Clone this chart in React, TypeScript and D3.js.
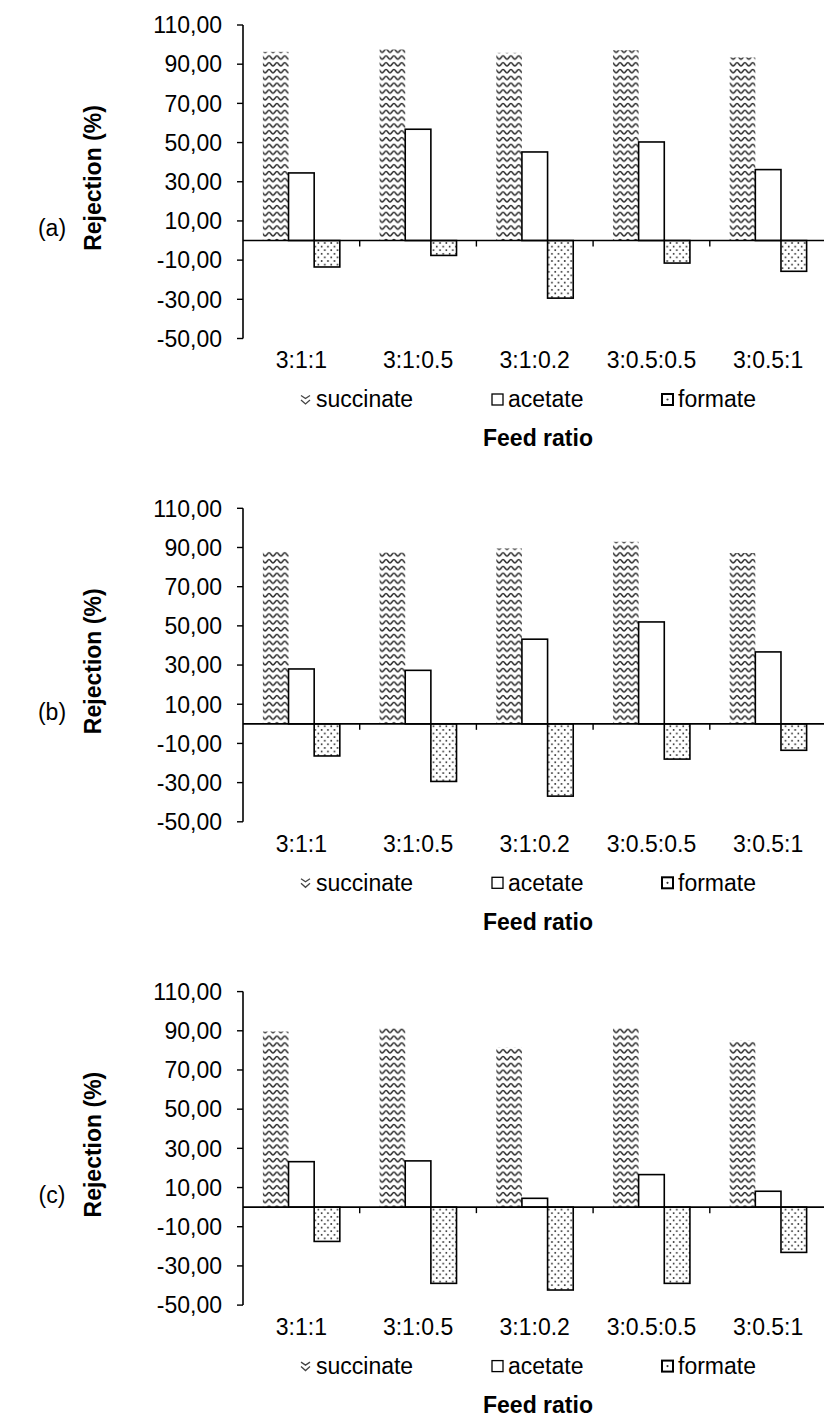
import React from 'react';
import * as d3 from 'd3';

const categories = ['3:1:1', '3:1:0.5', '3:1:0.2', '3:0.5:0.5', '3:0.5:1'];
const seriesNames = ['succinate', 'acetate', 'formate'];
const yTicks = [-50, -30, -10, 10, 30, 50, 70, 90, 110];
const panelLabels = ['(a)', '(b)', '(c)'];

// values, one array per series and panel
const succinateA = [96.3, 97.5, 95.8, 97.1, 93.4];
const acetateA = [34.5, 56.8, 45.2, 50.3, 36.2];
const formateA = [-13.5, -7.6, -29.4, -11.5, -15.7];

const succinateB = [88.1, 87.4, 89.5, 92.9, 87.2];
const acetateB = [28.0, 27.3, 43.2, 52.0, 36.7];
const formateB = [-16.4, -29.4, -36.9, -18.0, -13.5];

const succinateC = [89.6, 91.5, 81.6, 91.5, 85.0];
const acetateC = [23.2, 23.6, 4.5, 16.6, 8.1];
const formateC = [-17.5, -38.9, -42.3, -38.9, -23.1];

const panels = [
  [succinateA, acetateA, formateA],
  [succinateB, acetateB, formateB],
  [succinateC, acetateC, formateC],
];

const W = 824;
const H = 1417;
const PANEL_H = 483.3;
const FONT = '"Liberation Sans", Arial, sans-serif';
const FS = 23;

const locale = d3.formatLocale({
  decimal: ',',
  thousands: '.',
  grouping: [3],
  currency: ['', ''],
  minus: '-',
});
const fmt = locale.format('.2f');

const plotLeft = 243;
const step = 116.7;

const x = d3
  .scaleBand<string>()
  .domain(categories)
  .range([plotLeft, plotLeft + step * categories.length]);

const xs = d3
  .scaleBand<string>()
  .domain(seriesNames)
  .range([0, x.bandwidth()])
  .paddingInner(0)
  .paddingOuter(0.775);

const y = d3.scaleLinear().domain([-50, 110]).range([338.5, 25]);

const fills = ['url(#wave)', '#fff', 'url(#dots)'];
const strokes = ['none', '#000', '#000'];

const legendIconX = [300, 492, 662];
const legendTextX = [316, 508, 678];

function LegendIcon({ kind, x0, y0 }: { kind: number; x0: number; y0: number }) {
  if (kind === 0) {
    return (
      <g fill="none" stroke="#444" strokeWidth={1.3}>
        <path d={`M${x0 + 1},${y0 + 1.5} L${x0 + 5.5},${y0 + 4.5} L${x0 + 10},${y0 + 1.5}`} />
        <path d={`M${x0 + 1},${y0 + 6} L${x0 + 5.5},${y0 + 10} L${x0 + 10},${y0 + 6}`} />
      </g>
    );
  }
  if (kind === 1) {
    return <rect x={x0} y={y0} width={11} height={11} fill="#fff" stroke="#000" strokeWidth={1.3} />;
  }
  return (
    <g>
      <rect x={x0} y={y0} width={11} height={11} fill="#fff" stroke="#000" strokeWidth={2} />
      <circle cx={x0 + 5.5} cy={y0 + 5.5} r={1.1} fill="#333" />
    </g>
  );
}

function Panel({ values, label, offset }: { values: number[][]; label: string; offset: number }) {
  const y0 = y(0);
  return (
    <g transform={`translate(0,${offset})`}>
      {/* bars */}
      {seriesNames.map((name, si) => (
        <g key={name}>
          {categories.map((cat, ci) => {
            const v = values[si][ci];
            const yv = y(v);
            return (
              <rect
                key={cat}
                x={(x(cat) as number) + (xs(name) as number)}
                y={Math.min(yv, y0)}
                width={xs.bandwidth()}
                height={Math.abs(yv - y0)}
                fill={fills[si]}
                stroke={strokes[si]}
                strokeWidth={1.6}
              />
            );
          })}
        </g>
      ))}

      {/* y axis */}
      <line x1={plotLeft} x2={plotLeft} y1={y(110)} y2={y(-50)} stroke="#000" strokeWidth={1.6} />
      {yTicks.map((t) => (
        <g key={t}>
          <line x1={plotLeft - 6} x2={plotLeft} y1={y(t)} y2={y(t)} stroke="#000" strokeWidth={1.4} />
          <text
            x={plotLeft - 21}
            y={y(t)}
            dy="0.36em"
            textAnchor="end"
            fontFamily={FONT}
            fontSize={FS}
            fill="#000"
          >
            {fmt(t)}
          </text>
        </g>
      ))}

      {/* zero line with category ticks */}
      <line x1={plotLeft} x2={W} y1={y0} y2={y0} stroke="#000" strokeWidth={1.6} />
      {categories.slice(1).map((cat) => (
        <line
          key={cat}
          x1={x(cat) as number}
          x2={x(cat) as number}
          y1={y0}
          y2={y0 + 6}
          stroke="#000"
          strokeWidth={1.4}
        />
      ))}

      {/* category labels */}
      {categories.map((cat) => (
        <text
          key={cat}
          x={(x(cat) as number) + x.bandwidth() / 2}
          y={360}
          dy="0.36em"
          textAnchor="middle"
          fontFamily={FONT}
          fontSize={FS}
        >
          {cat}
        </text>
      ))}

      {/* legend */}
      {seriesNames.map((name, si) => (
        <g key={name}>
          <LegendIcon kind={si} x0={legendIconX[si]} y0={394} />
          <text x={legendTextX[si]} y={399} dy="0.36em" fontFamily={FONT} fontSize={FS}>
            {name}
          </text>
        </g>
      ))}

      <text x={538} y={438} dy="0.36em" textAnchor="middle" fontFamily={FONT} fontSize={FS} fontWeight="bold">
        Feed ratio
      </text>

      <text
        transform={`translate(93,178) rotate(-90)`}
        dy="0.36em"
        textAnchor="middle"
        fontFamily={FONT}
        fontSize={FS}
        fontWeight="bold"
      >
        Rejection (%)
      </text>

      <text x={52} y={228} dy="0.36em" textAnchor="middle" fontFamily={FONT} fontSize={FS}>
        {label}
      </text>
    </g>
  );
}

export default function App() {
  return (
    <svg
      width={W}
      height={H}
      viewBox={`0 0 ${W} ${H}`}
      style={{ position: 'absolute', left: 0, top: 0, background: '#fff' }}
    >
      <defs>
        <pattern id="wave" patternUnits="userSpaceOnUse" width={7.8} height={6.8}>
          <rect width={7.8} height={6.8} fill="#fff" />
          <path
            d="M0,4.8 C1.5,4.8 2.4,1.5 3.9,1.5 S6.3,4.8 7.8,4.8"
            fill="none"
            stroke="#2a2a2a"
            strokeWidth={1.5}
          />
        </pattern>
        <pattern id="dots" patternUnits="userSpaceOnUse" width={6.4} height={7.2}>
          <rect width={6.4} height={7.2} fill="#fff" />
          <circle cx={1.6} cy={1.8} r={0.9} fill="#222" />
          <circle cx={4.8} cy={5.4} r={0.9} fill="#222" />
        </pattern>
      </defs>
      {panels.map((vals, i) => (
        <Panel key={i} values={vals} label={panelLabels[i]} offset={i * PANEL_H} />
      ))}
    </svg>
  );
}
